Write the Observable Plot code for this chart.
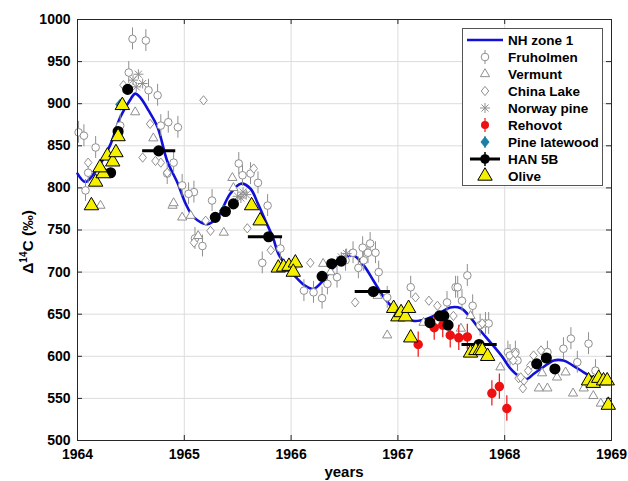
<!DOCTYPE html>
<html><head><meta charset="utf-8">
<script src="https://cdn.jsdelivr.net/npm/d3@7"></script>
<script src="https://cdn.jsdelivr.net/npm/@observablehq/plot@0.6"></script>
<style>
body{margin:0;background:#fff;font-family:Helvetica,Arial,"Liberation Sans",sans-serif;}
#wrap{position:relative;width:628px;height:481px;}
#legend{position:absolute;left:462px;top:28px;width:141px;height:158px;border:1px solid #555;background:#fff;box-sizing:border-box;}
</style></head>
<body><div id="wrap"></div>
<script>
// ---- NH zone 1 curve ----
const curveYears = [1964.00,1964.075,1964.17,1964.31,1964.40,1964.50,1964.54,1964.59,1964.665,1964.75,1964.84,1964.94,1965.01,1965.09,1965.22,1965.31,1965.43,1965.53,1965.62,1965.69,1965.76,1965.83,1965.88,1965.97,1966.06,1966.13,1966.21,1966.30,1966.40,1966.49,1966.58,1966.68,1966.77,1966.87,1966.95,1967.02,1967.15,1967.28,1967.40,1967.49,1967.59,1967.68,1967.77,1967.87,1967.98,1968.05,1968.15,1968.21,1968.27,1968.36,1968.46,1968.55,1968.64,1968.74,1968.83];
const curveVals  = [817,807,820,852,884,906,912,907,892,872,832,805,782,765,757,765,793,805,799,781,761,741,722,705,692,684,680,690,706,716,720,708,690,670,658,651,642,645,652,658,657,646,631,616,599,586,575,573,579,587,595,595,589,581,574];

// ---- Fruholmen (open circles with error bars) ----
const fruYears = [1964.01,1964.06,1964.515,1964.64,1964.48,1964.665,1964.75,1964.78,1964.85,1964.94,1964.17,1964.40,1964.90,1965.09,1965.26,1965.51,1964.075,1964.10,1964.84,1964.98,1965.04,1965.17,1965.10,1965.545,1965.62,1965.69,1965.78,1965.90,1965.73,1966.12,1966.21,1966.29,1966.34,1966.43,1966.51,1966.58,1966.67,1966.74,1966.72,1966.68,1966.63,1966.90,1966.79,1966.82,1967.12,1967.46,1967.54,1967.60,1967.65,1967.70,1967.56,1967.77,1967.82,1967.85,1968.03,1968.10,1968.12,1968.40,1968.55,1968.62,1968.785,1968.68,1968.85,1968.05];
const fruVals  = [866,862,977,975,937,916,910,874,878,872,848,874,830,795,785,829,797,818,817,803,793,731,740,815,817,806,779,728,711,678,676,669,686,694,714,723,729,734,723,714,705,670,723,700,682,664,682,666,696,660,682,637,639,639,605,605,595,605,609,621,615,593,583,601];
const fruErr = 13;

// ---- Vermunt (open triangles) ----
const verYears = [1964.54,1964.71,1964.89,1964.215,1965.45,1964.90,1964.98,1965.06,1965.13,1965.37,1965.46,1966.30,1966.37,1966.81,1966.90,1967.24,1967.59,1967.68,1967.96,1968.32,1968.40,1968.49,1968.64,1968.74,1968.83,1968.90,1968.57,1968.35];
const verVals  = [890,859,779,779,812,782,765,767,743,747,800,710,700,672,625,640,633,648,587,562,562,575,556,562,553,544,581,580];

// ---- China Lake (open diamonds) ----
const chiYears = [1964.43,1965.18,1964.61,1964.10,1964.68,1964.78,1964.73,1964.84,1965.09,1965.20,1965.245,1965.59,1965.65,1965.81,1966.60,1967.165,1967.29,1967.52,1967.37,1967.79,1968.13,1968.18,1968.10,1968.24,1968.34,1968.27,1968.17,1968.15,1968.22,1968.08,1966.02,1966.18];
const chiVals  = [922,904,836,830,876,830,832,818,735,761,749,752,823,726,664,670,666,648,660,639,574,571,603,589,607,601,562,575,583,595,704,711];

// ---- Norway pine (asterisks) ----
const norYears = [1964.52,1964.57,1964.61,1964.55,1965.50,1965.55,1965.58,1965.53,1966.47,1966.52];
const norVals  = [928,935,924,920,790,795,792,788,718,722];

// ---- Rehovot (red dots with error bars) ----
const rehYears = [1967.19,1967.34,1967.42,1967.49,1967.57,1967.65,1967.88,1967.95,1968.02];
const rehVals  = [614,634,637,625,622,623,556,564,538];
const rehErr = 15;

// ---- Pine latewood ----
const pinYears = [1964.40,1965.37];
const pinVals  = [899,773];

// ---- HAN 5B (black dots, some with horizontal bars) ----
const hanYears = [1964.47,1964.38,1964.31,1964.76,1965.29,1965.385,1965.46,1965.79,1966.29,1966.38,1966.47,1966.77,1967.30,1967.39,1967.43,1967.47,1967.76,1968.30,1968.39,1968.47];
const hanVals  = [917,867,818,844,765,772,781,742,695,710,713,677,640,648,648,637,614,591,598,585];
const hanLo    = [null,null,null,1964.61,null,null,null,1965.60,null,null,null,1966.60,null,null,null,null,1967.60,null,null,null];
const hanHi    = [null,null,null,1964.92,null,null,null,1965.92,null,null,null,1966.93,null,null,null,null,1967.93,null,null,null];

// ---- Olive (yellow triangles) ----
const oliYears = [1964.13,1964.17,1964.24,1964.21,1964.28,1964.33,1964.36,1964.38,1964.42,1965.63,1965.71,1965.88,1965.93,1965.98,1966.04,1966.02,1966.96,1967.00,1967.03,1967.07,1967.10,1967.12,1967.68,1967.73,1967.77,1967.79,1967.84,1968.785,1968.83,1968.88,1968.925,1968.96,1968.97];
const oliVals  = [779,807,817,824,838,831,842,861,898,779,761,705,706,707,711,700,657,647,652,647,657,622,604,607,607,607,600,571,568,574,571,571,542];

// ---- axes ----
const xTicks = [1964,1965,1966,1967,1968,1969];
const yTicks = [500,550,600,650,700,750,800,850,900,950,1000];
const legendLabels = ["NH zone 1","Fruholmen","Vermunt","China Lake","Norway pine","Rehovot","Pine latewood","HAN 5B","Olive"];

const zip = (xs, ys) => xs.map((x,i)=>({x, y: ys[i], i}));
const curve = zip(curveYears, curveVals);
const fru = zip(fruYears, fruVals);
const ver = zip(verYears, verVals);
const chi = zip(chiYears, chiVals);
const nor = zip(norYears, norVals);
const reh = zip(rehYears, rehVals);
const pin = zip(pinYears, pinVals);
const han = zip(hanYears, hanVals).map(d=>({...d, lo: hanLo[d.i], hi: hanHi[d.i]}));
const hanBars = han.filter(d=>d.lo!=null);
const oli = zip(oliYears, oliVals);

// custom MATLAB-like symbols; r = sqrt(size/pi)
const rad = s => Math.sqrt(s/Math.PI);
const triSym = {draw(c,s){const r=rad(s);c.moveTo(0,-1.15*r);c.lineTo(r,0.58*r);c.lineTo(-r,0.58*r);c.closePath();}};
const diaSym = {draw(c,s){const r=rad(s);c.moveTo(0,-1.1*r);c.lineTo(0.9*r,0);c.lineTo(0,1.1*r);c.lineTo(-0.9*r,0);c.closePath();}};
const astSym = {draw(c,s){const r=rad(s);const a=r*0.7071;c.moveTo(-r,0);c.lineTo(r,0);c.moveTo(0,-r);c.lineTo(0,r);c.moveTo(-a,-a);c.lineTo(a,a);c.moveTo(-a,a);c.lineTo(a,-a);}};

const W = 628, H = 481, mL = 77, mR = 17, mT = 19, mB = 41;
const pw = W - mL - mR, ph = H - mT - mB;
const gray = "#8f8f8f";

const chart = Plot.plot({
  width: W, height: H,
  marginLeft: mL, marginRight: mR, marginTop: mT, marginBottom: mB,
  style: {fontFamily: "Helvetica, Arial, 'Liberation Sans', sans-serif", fontSize: "14px", fontWeight: "bold", color: "#000", background: "#fff"},
  x: {domain: [1964, 1969]},
  y: {domain: [500, 1000]},
  marks: [
    Plot.gridX(xTicks, {stroke: "#dcdcdc", strokeOpacity: 1}),
    Plot.gridY(yTicks, {stroke: "#dcdcdc", strokeOpacity: 1}),
    Plot.line(curve, {x: "x", y: "y", stroke: "#1010d8", strokeWidth: 2.6, curve: "catmull-rom"}),
    // gray data
    Plot.ruleX(fru, {x: "x", y1: d=>d.y-fruErr, y2: d=>d.y+fruErr, stroke: gray, strokeWidth: 1}),
    Plot.dot(fru, {x: "x", y: "y", r: 3.8, stroke: gray, fill: "white", strokeWidth: 1}),
    Plot.dot(ver, {x: "x", y: "y", r: 4.6, symbol: triSym, stroke: gray, fill: "white", strokeWidth: 1}),
    Plot.dot(chi, {x: "x", y: "y", r: 4.2, symbol: diaSym, stroke: gray, fill: "white", strokeWidth: 1}),
    Plot.dot(nor, {x: "x", y: "y", r: 5, symbol: astSym, stroke: gray, fill: "none", strokeWidth: 1}),
    // Rehovot
    Plot.ruleX(reh, {x: "x", y1: d=>d.y-rehErr, y2: d=>d.y+rehErr, stroke: "#ee1111", strokeWidth: 1.2}),
    Plot.dot(reh, {x: "x", y: "y", r: 4, fill: "#ee1111", stroke: "#ee1111"}),
    // Pine latewood
    Plot.dot(pin, {x: "x", y: "y", r: 4.5, symbol: diaSym, fill: "#1b7fa6", stroke: "#1b7fa6"}),
    // HAN 5B
    Plot.ruleY(hanBars, {y: "y", x1: "lo", x2: "hi", stroke: "#000", strokeWidth: 3}),
    Plot.dot(han, {x: "x", y: "y", r: 4.8, fill: "#000", stroke: "#000"}),
    // Olive
    Plot.dot(oli, {x: "x", y: "y", r: 7.2, symbol: triSym, fill: "#f5f000", stroke: "#000", strokeWidth: 1}),
    // frame & inward ticks
    Plot.frame({stroke: "#262626", strokeWidth: 1}),
    Plot.ruleY(yTicks, {insetRight: pw - 5, stroke: "#262626"}),
    Plot.ruleY(yTicks, {insetLeft: pw - 5, stroke: "#262626"}),
    Plot.ruleX(xTicks, {insetTop: ph - 5, stroke: "#262626"}),
    Plot.ruleX(xTicks, {insetBottom: ph - 5, stroke: "#262626"}),
    Plot.axisX(xTicks, {tickSize: 0, tickPadding: 9, tickFormat: d => String(d), label: null, fontSize: 14, fontWeight: "bold"}),
    Plot.axisY(yTicks, {tickSize: 0, tickPadding: 7, tickFormat: d => String(d), label: null, fontSize: 14, fontWeight: "bold"})
  ]
});

const wrap = document.getElementById("wrap");
wrap.appendChild(chart);
const svg = d3.select(chart);
svg.append("text").attr("x", mL + pw/2).attr("y", 477).attr("text-anchor", "middle")
  .attr("font-size", 15).attr("font-weight", "bold").attr("fill", "#000").text("years");
const yl = svg.append("text").attr("transform", "translate(33,242) rotate(-90)").attr("text-anchor", "middle")
  .attr("font-size", 15.5).attr("font-weight", "bold").attr("fill", "#000");
yl.append("tspan").text("Δ");
yl.append("tspan").attr("font-size", 10).attr("dy", -6).text("14");
yl.append("tspan").attr("dy", 6).text("C (‰)");

// legend
const lg = d3.select(wrap).append("div").attr("id", "legend");
const ls = lg.append("svg").attr("width", 141).attr("height", 158).style("position","absolute").style("left","-1px").style("top","-1px");
const rowY = i => 12 + i*17;
const sx = 23;
legendLabels.forEach((t,i)=>{
  ls.append("text").attr("x", 46).attr("y", rowY(i)+5).attr("font-size", 13.5).attr("font-weight","bold")
    .attr("font-family","Helvetica, Arial, 'Liberation Sans', sans-serif").attr("fill","#000").text(t);
});
const sym = (s, size) => { const p = d3.path(); s.draw(p, size); return p.toString(); };
const sz = r => Math.PI*r*r;
ls.append("line").attr("x1",5).attr("x2",41).attr("y1",rowY(0)).attr("y2",rowY(0)).attr("stroke","#1010d8").attr("stroke-width",2.6);
ls.append("line").attr("x1",sx).attr("x2",sx).attr("y1",rowY(1)-7).attr("y2",rowY(1)+7).attr("stroke",gray);
ls.append("circle").attr("cx",sx).attr("cy",rowY(1)).attr("r",3.8).attr("fill","white").attr("stroke",gray);
ls.append("path").attr("transform",`translate(${sx},${rowY(2)})`).attr("d",sym(triSym,sz(4.6))).attr("fill","white").attr("stroke",gray);
ls.append("path").attr("transform",`translate(${sx},${rowY(3)})`).attr("d",sym(diaSym,sz(4.2))).attr("fill","white").attr("stroke",gray);
ls.append("path").attr("transform",`translate(${sx},${rowY(4)})`).attr("d",sym(astSym,sz(5))).attr("fill","none").attr("stroke",gray);
ls.append("line").attr("x1",sx).attr("x2",sx).attr("y1",rowY(5)-7).attr("y2",rowY(5)+7).attr("stroke","#ee1111").attr("stroke-width",1.2);
ls.append("circle").attr("cx",sx).attr("cy",rowY(5)).attr("r",4).attr("fill","#ee1111");
ls.append("line").attr("x1",sx).attr("x2",sx).attr("y1",rowY(6)-6).attr("y2",rowY(6)+6).attr("stroke","#1b7fa6").attr("stroke-width",1.2);
ls.append("path").attr("transform",`translate(${sx},${rowY(6)})`).attr("d",sym(diaSym,sz(4.5))).attr("fill","#1b7fa6").attr("stroke","#1b7fa6");
ls.append("line").attr("x1",sx-15).attr("x2",sx+15).attr("y1",rowY(7)).attr("y2",rowY(7)).attr("stroke","#000").attr("stroke-width",3);
ls.append("line").attr("x1",sx).attr("x2",sx).attr("y1",rowY(7)-7).attr("y2",rowY(7)+7).attr("stroke","#000").attr("stroke-width",1.5);
ls.append("circle").attr("cx",sx).attr("cy",rowY(7)).attr("r",4.8).attr("fill","#000");
ls.append("path").attr("transform",`translate(${sx},${rowY(8)})`).attr("d",sym(triSym,sz(7.2))).attr("fill","#f5f000").attr("stroke","#000");
</script></body></html>
